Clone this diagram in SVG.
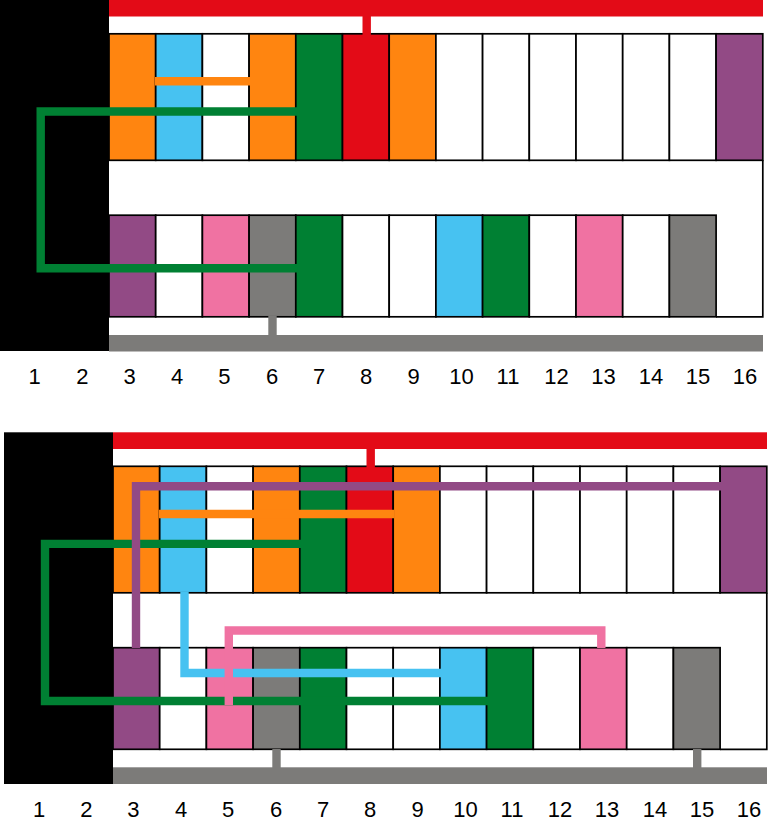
<svg xmlns="http://www.w3.org/2000/svg" width="781" height="832" viewBox="0 0 781 832">
<style>
text{font-family:"Liberation Sans",Arial,sans-serif;font-size:22px;fill:#000;text-anchor:middle}
rect{stroke:#000;stroke-width:1.7}
.bk{fill:#000;stroke:none}.rb{fill:#e30b17;stroke:none}.gb{fill:#7c7b79;stroke:none}
.w{fill:#fff}.o{fill:#ff8510}.b{fill:#47c2f1}.g{fill:#008033}.r{fill:#e30b17}.p{fill:#924a85}.k{fill:#f072a2}.y{fill:#7c7b79}
.c{fill:none;stroke-width:8.4;stroke-linejoin:miter}
.cr{stroke:#e30b17}.co{stroke:#ff8510}.cg{stroke:#008033}.cy{stroke:#7c7b79}.cp{stroke:#924a85}.cb{stroke:#47c2f1}.ck{stroke:#f072a2}
.edge{fill:none;stroke:#000;stroke-width:1.7}
</style>
<defs>
<g id="upper">
<rect class="o" x="0" y="0" width="46.7" height="126.5"/>
<rect class="b" x="46.7" y="0" width="46.7" height="126.5"/>
<rect class="w" x="93.4" y="0" width="46.7" height="126.5"/>
<rect class="o" x="140.1" y="0" width="46.7" height="126.5"/>
<rect class="g" x="186.8" y="0" width="46.7" height="126.5"/>
<rect class="r" x="233.5" y="0" width="46.7" height="126.5"/>
<rect class="o" x="280.2" y="0" width="46.7" height="126.5"/>
<rect class="w" x="326.9" y="0" width="46.7" height="126.5"/>
<rect class="w" x="373.6" y="0" width="46.7" height="126.5"/>
<rect class="w" x="420.3" y="0" width="46.7" height="126.5"/>
<rect class="w" x="467" y="0" width="46.7" height="126.5"/>
<rect class="w" x="513.7" y="0" width="46.7" height="126.5"/>
<rect class="w" x="560.4" y="0" width="46.7" height="126.5"/>
<rect class="p" x="607.1" y="0" width="46.7" height="126.5"/>
</g>
<g id="lower">
<rect class="p" x="0" y="181.4" width="46.7" height="101.6"/>
<rect class="w" x="46.7" y="181.4" width="46.7" height="101.6"/>
<rect class="k" x="93.4" y="181.4" width="46.7" height="101.6"/>
<rect class="y" x="140.1" y="181.4" width="46.7" height="101.6"/>
<rect class="g" x="186.8" y="181.4" width="46.7" height="101.6"/>
<rect class="w" x="233.5" y="181.4" width="46.7" height="101.6"/>
<rect class="w" x="280.2" y="181.4" width="46.7" height="101.6"/>
<rect class="b" x="326.9" y="181.4" width="46.7" height="101.6"/>
<rect class="g" x="373.6" y="181.4" width="46.7" height="101.6"/>
<rect class="w" x="420.3" y="181.4" width="46.7" height="101.6"/>
<rect class="k" x="467" y="181.4" width="46.7" height="101.6"/>
<rect class="w" x="513.7" y="181.4" width="46.7" height="101.6"/>
<rect class="y" x="560.4" y="181.4" width="46.7" height="101.6"/>
<path class="edge" d="M607.1 283H653.8V126.5"/>
</g>
</defs>

<g id="strip-a">
<rect id="a-black" class="bk" x="0" y="0" width="109" height="351"/>
<rect id="a-red-bar" class="rb" x="109" y="0" width="654" height="16.5"/>
<rect id="a-grey-bar" class="gb" x="109" y="335" width="654" height="16.5"/>
<use href="#upper" x="109" y="33.8"/>
<use href="#lower" x="109" y="33.8"/>
</g>

<g id="strip-b">
<rect id="b-black" class="bk" x="4" y="432.3" width="109" height="351.7"/>
<rect id="b-red-bar" class="rb" x="113" y="432.3" width="654" height="16.7"/>
<rect id="b-grey-bar" class="gb" x="113" y="767.3" width="654" height="16.7"/>
<use href="#upper" x="113" y="466.3"/>
<use href="#lower" x="113" y="466.3"/>
</g>

<g id="connectors-a">
<path class="c cr" d="M366.7 16V38"/>
<path class="c co" d="M155 81.2H251"/>
<path class="c cg" d="M297 111.5H40.7V268.3H297"/>
<path class="c cy" d="M272.5 316V336"/>
</g>

<g id="connectors-b">
<path class="c cr" d="M370.7 448V470"/>
<path class="c co" d="M159 514H394"/>
<path class="c cg" d="M301 543.9H45V701H488"/>
<path class="c cp" d="M722 486.2H136V648"/>
<path class="c cb" d="M184.5 592V673H441"/>
<path class="c ck" d="M228.8 705V630.5H601.3V648"/>
<path class="c cy" d="M276.5 749V768"/>
<path class="c cy" d="M697.2 749V768"/>
</g>

<g id="labels-a">
<text x="34.7" y="384">1</text><text x="82.3" y="384">2</text><text x="129.7" y="384">3</text><text x="177" y="384">4</text><text x="224.3" y="384">5</text><text x="272" y="384">6</text><text x="319" y="384">7</text><text x="366" y="384">8</text><text x="413.5" y="384">9</text><text x="461.5" y="384">10</text><text x="508" y="384">11</text><text x="556.5" y="384">12</text><text x="603.5" y="384">13</text><text x="651" y="384">14</text><text x="698" y="384">15</text><text x="745" y="384">16</text>
</g>
<g id="labels-b">
<text x="39" y="816.5">1</text><text x="86.3" y="816.5">2</text><text x="133.3" y="816.5">3</text><text x="181" y="816.5">4</text><text x="228" y="816.5">5</text><text x="276" y="816.5">6</text><text x="323" y="816.5">7</text><text x="370" y="816.5">8</text><text x="417.5" y="816.5">9</text><text x="465.5" y="816.5">10</text><text x="512" y="816.5">11</text><text x="560" y="816.5">12</text><text x="607" y="816.5">13</text><text x="655" y="816.5">14</text><text x="702" y="816.5">15</text><text x="749" y="816.5">16</text>
</g>
</svg>
